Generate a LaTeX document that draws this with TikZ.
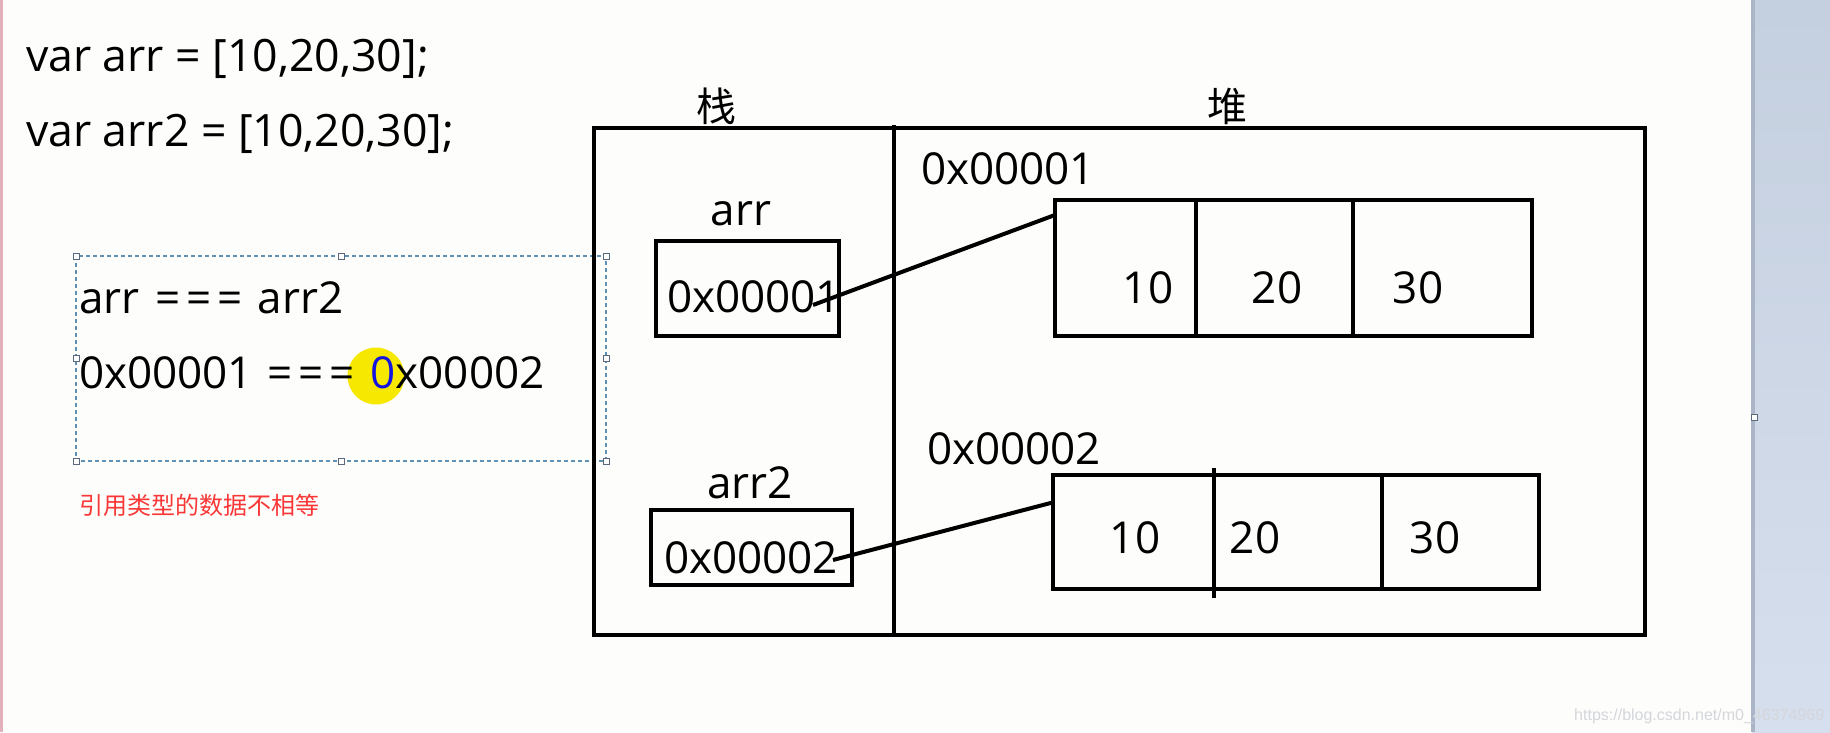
\documentclass[tikz,border=0pt]{standalone}
\usepackage{fontspec}
\setmainfont{Open Sans}
\newfontfamily\cjk{Noto Sans CJK SC}
\newfontfamily\wmfont{Liberation Sans}
\usetikzlibrary{calc}
\definecolor{bg}{RGB}{253,253,251}
\definecolor{sidetop}{RGB}{196,207,223}
\definecolor{sidebot}{RGB}{214,223,237}
\definecolor{sideedge}{RGB}{170,181,200}
\definecolor{pinkline}{RGB}{226,176,186}
\definecolor{selc}{RGB}{95,145,180}
\definecolor{handlec}{RGB}{90,105,125}
\definecolor{hly}{RGB}{246,232,0}
\definecolor{blue0}{RGB}{20,20,225}
\definecolor{redc}{RGB}{250,55,55}
\definecolor{wmc}{RGB}{212,214,220}
\newcommand{\eqs}{=\hspace{6pt}=\hspace{6pt}=}
\begin{document}
\begin{tikzpicture}[x=1pt,y=-1pt,
  box/.style={draw=black, line width=4.5pt, inner sep=0pt, outer sep=0pt},
  code/.style={inner sep=0pt, outer sep=0pt, anchor=base west, font=\fontsize{44.6}{50}\selectfont},
  lbl/.style={inner sep=0pt, outer sep=0pt, anchor=base west, font=\fontsize{44}{50}\selectfont},
  lblc/.style={inner sep=0pt, outer sep=0pt, anchor=base, font=\fontsize{44}{50}\selectfont},
  num/.style={inner sep=0pt, outer sep=0pt, anchor=base, font=\fontsize{44}{50}\selectfont},
  zh/.style={inner sep=0pt, outer sep=0pt, anchor=base, font=\cjk\fontsize{40}{44}\selectfont},
  conn/.style={draw=black, line width=4pt},
  divl/.style={draw=black, line width=4.5pt},
  selbox/.style={draw=selc, line width=1.2pt, dash pattern=on 4pt off 3pt},
  handle/.style={draw=handlec, fill=white, line width=0.8pt, minimum size=6pt, inner sep=0pt, rectangle}
]
\useasboundingbox (0,0) rectangle (1830,732);
% background
\fill[bg] (0,0) rectangle (1830,732);
\shade[top color=sidetop, bottom color=sidebot] (1752,0) rectangle (1830,732);
\fill[sideedge] (1751,0) rectangle (1755,732);
\fill[pinkline] (0,0) rectangle (3,732);

% code lines
\node[code] (c1) at (26,71) {var arr = [10,20,30];};
\node[code] (c2) at (26,146) {var arr2 = [10,20,30];};

% selection box
\draw[selbox] (76,256) rectangle (606,461);
\foreach \hx/\hy [count=\i] in {76/256,341/256,606/256,76/358,606/358,76/461,341/461,606/461}
  \node[handle] (h\i) at (\hx,\hy) {};
\node[handle] (hs) at (1754,417) {};

% highlight circle
\node[circle, fill=hly, minimum size=57pt, inner sep=0pt] (hl) at (376,376) {};

% comparison text
\node[lbl] (cmp1) at (79,313) {arr\hspace{16pt}\eqs\hspace{15pt}arr2};
\node[lbl] (cmp2) at (79,388) {0x00001\hspace{14pt}\eqs\hspace{16pt}{\color{blue0}0}x00002};
\node[inner sep=0pt, anchor=base west, font=\cjk\fontsize{24}{28}\selectfont, text=redc] (note) at (79,514) {引用类型的数据不相等};

% stack / heap titles
\node[zh] (zhan) at (716,121) {栈};
\node[zh] (dui) at (1227,121) {堆};

% main memory box
\node[box, minimum width=1051pt, minimum height=507pt] (mem) at (1119.5,381.5) {};
\coordinate (dtop) at (894,125);
\draw[divl] (dtop) -- (dtop |- mem.south);

% stack variables
\node[lblc] (arrl) at (741,225) {arr};
\node[box, minimum width=183pt, minimum height=95pt] (arrb) at (747.5,288.5) {};
\node[lbl] (arrv) at (667,312) {0x00001};
\node[lblc] (arr2l) at (750,498) {arr2};
\node[box, minimum width=201pt, minimum height=75pt] (arr2b) at (751.5,547.5) {};
\node[lbl] (arr2v) at (664,573) {0x00002};

% heap array 1
\node[lbl] (h1l) at (921,184) {0x00001};
\node[box, minimum width=477pt, minimum height=136pt] (a1) at (1293.5,268) {};
\coordinate (d11) at (1196,200);
\coordinate (d12) at (1353,200);
\draw[divl] (d11) -- (d11 |- a1.south);
\draw[divl] (d12) -- (d12 |- a1.south);
\node[num] (a1n1) at (1148,303) {10};
\node[num] (a1n2) at (1277,303) {20};
\node[num] (a1n3) at (1418,303) {30};

% heap array 2
\node[lbl] (h2l) at (927,464) {0x00002};
\node[box, minimum width=486pt, minimum height=114pt] (a2) at (1296,532) {};
\coordinate (d21) at (1214,468);
\coordinate (d21b) at (1214,598);
\coordinate (d22) at (1382,475);
\draw[divl] (d21) -- (d21b);
\draw[divl] (d22) -- (d22 |- a2.south);
\node[num] (a2n1) at (1135,553) {10};
\node[num] (a2n2) at (1255,553) {20};
\node[num] (a2n3) at (1435,553) {30};

% connectors
\coordinate (s1) at (813,305);
\coordinate (s2) at (833,560);
\draw[conn] (s1) -- ($(a1.north west)!0.11!(a1.south west)$);
\draw[conn] (s2) -- ($(a2.north west)!0.24!(a2.south west)$);

% watermark
\node[inner sep=0pt, anchor=base west, font=\wmfont\fontsize{16}{18}\selectfont, text=wmc] (wm) at (1574,720) {https://blog.csdn.net/m0\_46374969};
\end{tikzpicture}
\end{document}
